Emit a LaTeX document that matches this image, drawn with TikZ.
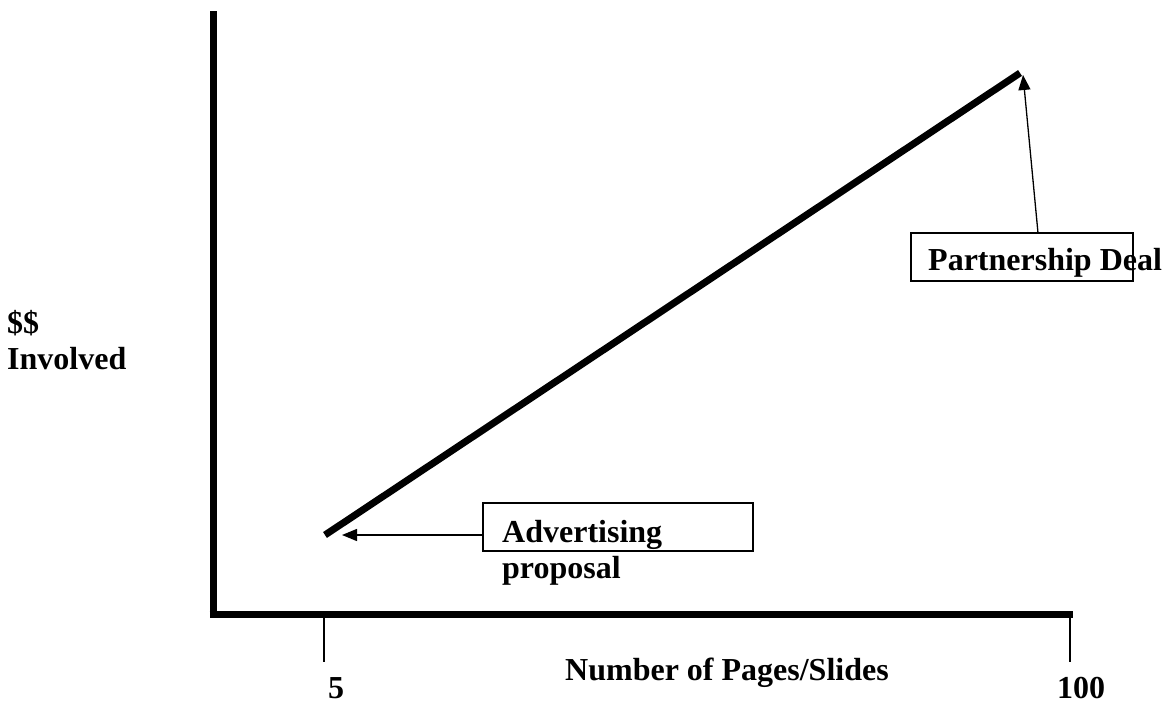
\documentclass[tikz,border=0pt]{standalone}
\usepackage{fontspec}
\setmainfont{Liberation Serif}
\usetikzlibrary{arrows.meta,calc}
\begin{document}
\begin{tikzpicture}[x=1pt,y=-1pt,
  lbl/.style={inner sep=0pt,anchor=base west,font=\fontsize{32}{37}\selectfont\bfseries},
  axisline/.style={line width=7pt},
  ticklin/.style={line width=1.5pt},
  trend/.style={line width=7pt},
  callout/.style={draw,line width=1.3pt,inner sep=0pt},
  pointer/.style={line width=1.3pt,-{Triangle[length=15pt,width=12pt]}}]
\useasboundingbox (0,0) rectangle (1167,704);
% axes
\coordinate (ytop) at (213,11);
\coordinate (origin) at (213,614.5);
\coordinate (xend) at (1073,614.5);
\draw[axisline] (ytop) -- (213,618);
\draw[axisline] (209.5,614.5) -- (xend);
% ticks
\coordinate (t5a) at (324,618);
\coordinate (t5b) at (324,662);
\coordinate (t100a) at (1070,618);
\coordinate (t100b) at (1070,662);
\draw[ticklin] (t5a) -- (t5b);
\draw[ticklin] (t100a) -- (t100b);
% trend line
\coordinate (low) at (325,535);
\coordinate (high) at (1020,73);
\draw[trend] (low) -- (high);
% callout boxes
\node[callout,minimum width=270pt,minimum height=48pt] (adbox) at (618,527) {};
\node[callout,minimum width=222pt,minimum height=48pt] (pbox) at (1022,257) {};
% pointers
\coordinate (adtip) at (342,535);
\coordinate (ptip) at (1023,75);
\coordinate (pstart) at (1038,233);
\draw[pointer] (adbox.west |- adtip) -- (adtip);
\draw[pointer] (pstart) -- (ptip);
% texts
\node[lbl] (adv1) at (502,542) {Advertising};
\node[lbl] (adv2) at (502,578) {proposal};
\node[lbl] (part) at (928,270) {Partnership Deal};
\node[lbl] (dol) at (7,333) {\$\$};
\node[lbl] (inv) at (7,369) {Involved};
\node[lbl] (xlab) at (565,680) {Number of Pages/Slides};
\node[lbl,anchor=base] (n5) at (336,698) {5};
\node[lbl,anchor=base] (n100) at (1081,698) {100};
\end{tikzpicture}
\end{document}
